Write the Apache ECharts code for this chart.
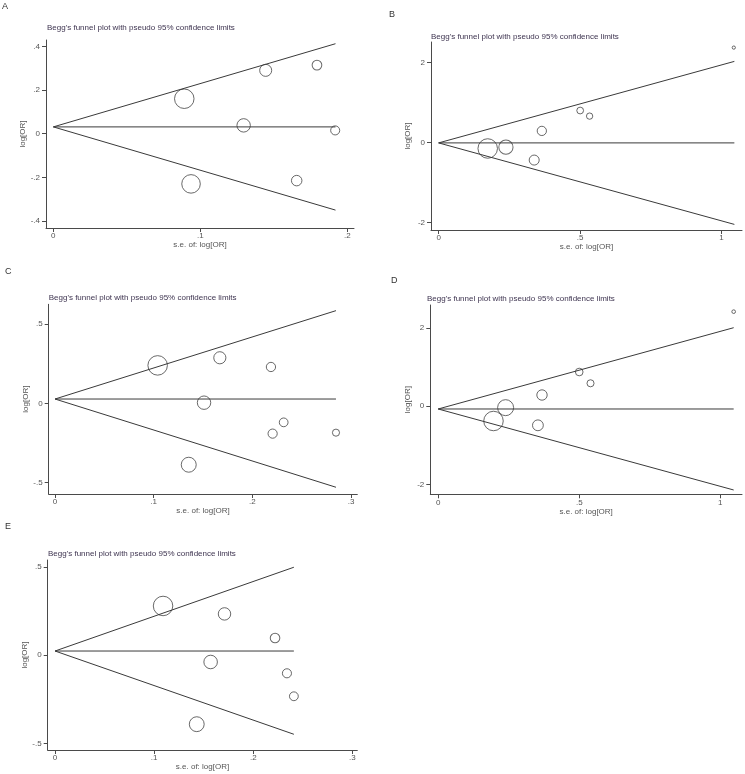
<!DOCTYPE html>
<html><head><meta charset="utf-8">
<script src="https://cdn.jsdelivr.net/npm/echarts@6/dist/echarts.min.js"></script>
<style>html,body{margin:0;padding:0;background:#fff}#c{width:745px;height:774px}</style>
</head><body><div id="c"></div>
<script>
// ---- data ----
const panelLetters = ['A', 'B', 'C', 'D', 'E'];
const plotTitle = "Begg's funnel plot with pseudo 95% confidence limits";
const xAxisName = 's.e. of: log[OR]';
const yAxisName = 'log[OR]';

// Panel A
const aSe    = [0.0891, 0.0937, 0.1295, 0.1445, 0.1794, 0.1656, 0.1918];
const aLogOR = [0.160, -0.230, 0.038, 0.290, 0.314, -0.215, 0.015];
const aLimits = [0.031, 0.192, 0.412, -0.350];   // pooled, se end, upper end, lower end
const aXTicks = [0, 0.1, 0.2];
const aYTicks = [-0.4, -0.2, 0, 0.2, 0.4];

// Panel B
const bSe    = [0.1736, 0.238, 0.338, 0.365, 0.5006, 0.534, 1.044];
const bLogOR = [-0.15, -0.1175, -0.44, 0.29, 0.80, 0.66, 2.375];
const bLimits = [-0.01, 1.046, 2.03, -2.05];
const bXTicks = [0, 0.5, 1];
const bYTicks = [-2, 0, 2];

// Panel C
const cSe    = [0.104, 0.167, 0.151, 0.1355, 0.2188, 0.2205, 0.2317, 0.2847];
const cLogOR = [0.239, 0.287, 0.004, -0.387, 0.229, -0.191, -0.12, -0.185];
const cLimits = [0.027, 0.2847, 0.584, -0.529];
const cXTicks = [0, 0.1, 0.2, 0.3];
const cYTicks = [-0.5, 0, 0.5];

// Panel D
const dSe    = [0.196, 0.239, 0.3535, 0.368, 0.500, 0.540, 1.0475];
const dLogOR = [-0.375, -0.035, -0.485, 0.288, 0.875, 0.587, 2.414];
const dLimits = [-0.069, 1.0475, 2.005, -2.135];
const dXTicks = [0, 0.5, 1];
const dYTicks = [-2, 0, 2];

// Panel E
const eSe    = [0.109, 0.171, 0.157, 0.143, 0.222, 0.234, 0.241];
const eLogOR = [0.279, 0.234, -0.038, -0.39, 0.098, -0.102, -0.232];
const eLimits = [0.024, 0.241, 0.498, -0.447];
const eXTicks = [0, 0.1, 0.2, 0.3];
const eYTicks = [-0.5, 0, 0.5];

// ---- layout / styling ----
const panels = [
  {se: aSe, or: aLogOR, lim: aLimits, xt: aXTicks, yt: aYTicks,
   grid: {left: 46, top: 40, width: 308, height: 188}, x: [-0.005, 0.2046], y: [-0.432, 0.429],
   letter: [2, 2], title: [47, 24]},
  {se: bSe, or: bLogOR, lim: bLimits, xt: bXTicks, yt: bYTicks,
   grid: {left: 431, top: 42, width: 311, height: 188}, x: [-0.027, 1.073], y: [-2.19, 2.515],
   letter: [389, 10], title: [431, 33]},
  {se: cSe, or: cLogOR, lim: cLimits, xt: cXTicks, yt: cYTicks,
   grid: {left: 48.7, top: 304.3, width: 308.6, height: 189.7}, x: [-0.0064, 0.3063], y: [-0.5715, 0.624],
   letter: [5, 267], title: [48.7, 294]},
  {se: dSe, or: dLogOR, lim: dLimits, xt: dXTicks, yt: dYTicks,
   grid: {left: 430.3, top: 305, width: 311.7, height: 189.3}, x: [-0.028, 1.077], y: [-2.245, 2.584],
   letter: [391, 276], title: [427, 294.5]},
  {se: eSe, or: eLogOR, lim: eLimits, xt: eXTicks, yt: eYTicks,
   grid: {left: 47.7, top: 560, width: 309.6, height: 190}, x: [-0.0074, 0.305], y: [-0.536, 0.539],
   letter: [5, 522], title: [48, 549.5]}
];

const axisColor = '#4a4a4a';
const labelColor = '#555';
const fontFam = '"Liberation Sans", Arial, sans-serif';

function stataFmt(v) {
  let s = String(Math.round(v * 1000) / 1000);
  s = s.replace(/^0\./, '.').replace(/^-0\./, '-.');
  return s;
}

const grids = [], xAxes = [], yAxes = [], series = [], graphics = [];
panels.forEach((p, i) => {
  grids.push(Object.assign({containLabel: false}, p.grid));
  xAxes.push({
    type: 'value', gridIndex: i, min: p.x[0], max: p.x[1],
    name: xAxisName, nameLocation: 'middle', nameGap: 13,
    nameTextStyle: {fontSize: 8, color: labelColor, fontFamily: fontFam},
    axisLine: {show: true, onZero: false, lineStyle: {color: axisColor, width: 1}},
    axisTick: {show: true, length: 4, customValues: p.xt, lineStyle: {color: axisColor}},
    axisLabel: {customValues: p.xt, formatter: stataFmt, fontSize: 8, color: labelColor, margin: 4, fontFamily: fontFam},
    splitLine: {show: false}
  });
  yAxes.push({
    type: 'value', gridIndex: i, min: p.y[0], max: p.y[1],
    name: yAxisName, nameLocation: 'middle', nameGap: 19, nameRotate: 90,
    nameTextStyle: {fontSize: 8, color: labelColor, fontFamily: fontFam},
    axisLine: {show: true, onZero: false, lineStyle: {color: axisColor, width: 1}},
    axisTick: {show: true, length: 4, customValues: p.yt, lineStyle: {color: axisColor}},
    axisLabel: {customValues: p.yt, formatter: stataFmt, fontSize: 8, color: labelColor, margin: 6, fontFamily: fontFam},
    splitLine: {show: false}
  });
  const theta = p.lim[0], seEnd = p.lim[1], up = p.lim[2], lo = p.lim[3];
  const lineStyle = {color: '#3a3a3a', width: 1};
  [[[0, theta], [seEnd, up]], [[0, theta], [seEnd, theta]], [[0, theta], [seEnd, lo]]].forEach(d => {
    series.push({type: 'line', xAxisIndex: i, yAxisIndex: i, data: d, symbol: 'none',
      lineStyle: lineStyle, silent: true, animation: false});
  });
  const minSe = Math.min.apply(null, p.se);
  series.push({
    type: 'scatter', xAxisIndex: i, yAxisIndex: i,
    data: p.se.map((s, k) => [s, p.or[k]]),
    symbol: 'circle',
    symbolSize: v => 19.5 * minSe / v[0],
    itemStyle: {color: 'rgba(0,0,0,0)', borderColor: '#444', borderWidth: 1},
    animation: false
  });
  graphics.push({type: 'text', left: p.letter[0], top: p.letter[1],
    style: {text: panelLetters[i], fontSize: 9, fill: '#333', fontFamily: fontFam}});
  graphics.push({type: 'text', left: p.title[0], top: p.title[1],
    style: {text: plotTitle, fontSize: 8, fill: '#3e3450', fontFamily: fontFam}});
});

const chart = echarts.init(document.getElementById('c'), null, {renderer: 'canvas'});
chart.setOption({
  backgroundColor: '#fff',
  animation: false,
  grid: grids, xAxis: xAxes, yAxis: yAxes, series: series, graphic: graphics
});
</script></body></html>
